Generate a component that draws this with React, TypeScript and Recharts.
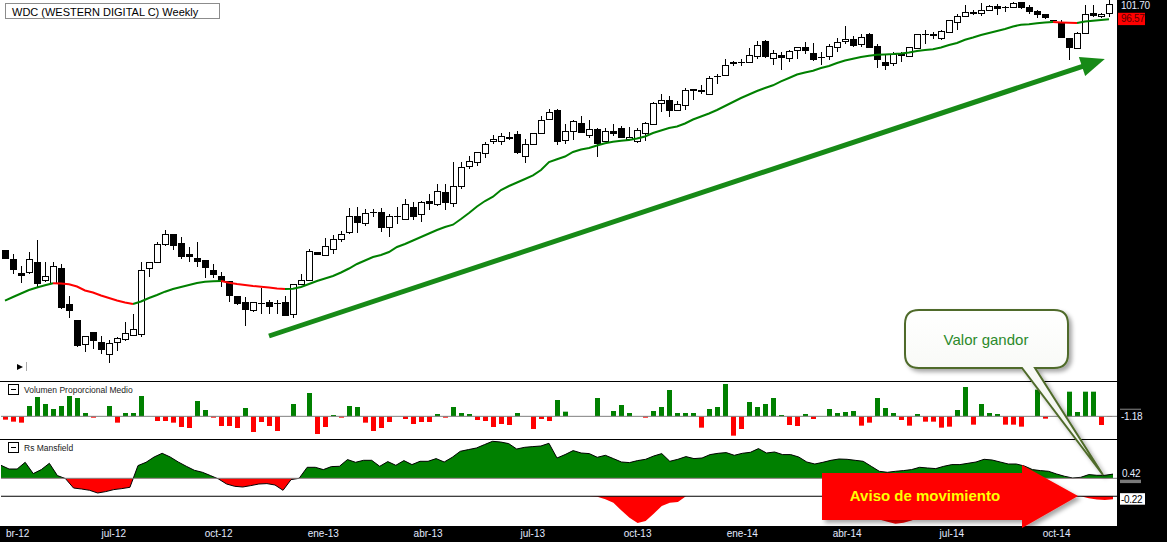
import React from 'react';
import { ComposedChart, Bar, Line, Area, XAxis, YAxis, ReferenceLine, Cell } from 'recharts';

// weekly candles, apr-12 .. dec-14
const openPx = [
  52.6, 50.7, 48.1, 48.1, 50.2, 46.5, 46.1, 49.0, 41.8, 38.7,
  33.8, 36.3, 34.3, 31.9, 34.3, 34.9, 35.7, 35.9, 49.1, 50.3,
  53.9, 55.8, 53.9, 51.7, 51.1, 50.6, 48.6, 47.5, 46.5, 43.5,
  42.3, 40.5, 42.1, 42.3, 42.1, 42.2, 39.8, 45.9, 46.7, 52.2,
  51.5, 52.9, 54.7, 56.1, 59.4, 57.9, 60.1, 60.2, 57.3, 59.5,
  58.7, 61.1, 59.7, 62.3, 61.7, 64.3, 61.9, 65.3, 69.3, 70.2,
  71.9, 74.3, 74.3, 75.1, 75.8, 71.4, 73.8, 75.9, 78.7, 80.6,
  74.5, 76.3, 77.9, 75.5, 76.7, 74.3, 76.3, 77.1, 74.7, 74.3,
  75.9, 77.7, 81.9, 82.6, 80.5, 81.5, 84.7, 84.6, 83.8, 87.3,
  87.5, 90.1, 90.1, 90.1, 91.3, 94.3, 91.1, 91.5, 90.9, 92.5,
  93.1, 91.9, 91.1, 91.3, 93.1, 94.3, 94.7, 93.7, 95.7, 93.3,
  90.2, 89.9, 91.8, 91.3, 93.1, 95.8, 95.7, 95.1, 96.2, 98.1,
  99.4, 100.2, 100.1, 100.5, 101.3, 101.1, 101.1, 102.1, 101.1, 100.3,
  99.7, 98.5, 98.2, 94.9, 93.1, 95.9, 99.9, 99.3, 99.9,
];
const highPx = [
  52.6, 51.8, 49.4, 52.3, 54.6, 50.1, 50.3, 49.7, 43.4, 38.7,
  35.5, 36.3, 35.5, 34.6, 35.3, 38.2, 39.9, 50.2, 50.2, 54.2,
  56.5, 55.8, 55.1, 53.1, 54.3, 50.6, 49.9, 48.3, 46.5, 43.5,
  43.3, 42.3, 45.1, 42.6, 42.6, 43.4, 45.9, 47.9, 52.7, 52.2,
  55.0, 55.5, 56.3, 61.0, 61.1, 60.7, 60.7, 61.0, 59.8, 61.3,
  62.7, 62.1, 62.3, 63.7, 65.8, 65.8, 70.1, 70.1, 71.4, 72.2,
  74.2, 75.5, 75.9, 76.2, 76.3, 74.7, 76.1, 79.3, 80.7, 80.7,
  77.7, 78.6, 79.4, 78.6, 77.0, 76.9, 77.7, 77.4, 77.1, 76.9,
  78.2, 82.1, 83.8, 83.4, 82.3, 85.0, 84.7, 85.5, 87.3, 87.7,
  90.7, 90.3, 90.7, 92.9, 94.3, 94.6, 92.5, 92.1, 92.6, 93.1,
  94.2, 94.1, 92.2, 93.8, 95.1, 97.4, 95.4, 95.7, 96.1, 93.7,
  91.5, 92.2, 92.1, 93.1, 95.8, 96.5, 96.2, 96.6, 98.6, 99.8,
  101.5, 100.6, 101.9, 101.5, 101.7, 101.3, 102.1, 102.2, 101.5, 100.6,
  99.8, 98.6, 98.5, 95.1, 96.2, 101.5, 101.5, 99.9, 102.5,
];
const lowPx = [
  50.8, 47.8, 46.1, 47.7, 45.3, 46.2, 45.9, 40.9, 39.0, 33.3,
  32.1, 32.7, 31.9, 30.1, 32.5, 34.5, 35.4, 35.3, 47.3, 50.2,
  53.4, 52.5, 50.7, 50.1, 49.3, 46.9, 46.9, 45.3, 42.2, 41.6,
  37.4, 40.2, 39.9, 39.9, 39.8, 39.5, 39.1, 45.9, 46.7, 51.5,
  51.3, 51.8, 54.1, 55.8, 55.9, 57.4, 59.3, 56.2, 55.3, 57.8,
  58.5, 58.6, 58.1, 60.6, 61.4, 60.5, 61.1, 64.7, 68.7, 69.4,
  71.0, 73.8, 73.5, 74.6, 71.8, 69.9, 73.7, 75.9, 78.5, 73.5,
  73.8, 74.6, 75.9, 75.1, 71.3, 74.2, 75.4, 75.0, 74.6, 73.9,
  74.3, 77.5, 80.1, 79.1, 80.3, 80.5, 82.6, 83.8, 83.8, 85.8,
  87.4, 89.3, 89.4, 90.1, 90.7, 91.0, 89.5, 88.5, 90.2, 90.7,
  91.8, 90.3, 89.5, 90.6, 92.2, 93.8, 93.1, 93.1, 92.9, 88.9,
  88.6, 89.3, 90.1, 91.3, 93.0, 93.8, 94.7, 94.5, 95.9, 96.5,
  99.3, 99.5, 99.4, 100.3, 99.5, 100.2, 101.0, 100.7, 99.8, 98.9,
  98.7, 98.3, 95.0, 90.5, 92.9, 95.7, 99.1, 98.9, 99.1,
];
const closePx = [
  50.8, 48.5, 47.5, 50.7, 45.9, 47.4, 49.4, 41.0, 40.5, 33.4,
  35.5, 34.5, 32.7, 34.1, 35.1, 36.1, 36.9, 48.7, 50.2, 53.9,
  55.7, 53.4, 51.3, 51.3, 50.2, 49.0, 47.5, 46.5, 43.4, 41.9,
  40.7, 42.3, 42.0, 41.3, 42.0, 39.5, 45.9, 46.6, 52.3, 51.5,
  53.3, 54.7, 55.8, 59.5, 57.9, 59.9, 60.0, 56.9, 59.5, 59.1,
  61.8, 59.3, 62.2, 61.7, 64.3, 61.9, 65.4, 69.1, 70.3, 72.2,
  73.8, 74.7, 75.4, 75.2, 71.9, 73.8, 75.9, 78.5, 80.1, 74.2,
  76.3, 78.3, 75.9, 76.7, 73.7, 76.3, 75.7, 75.1, 75.1, 76.6,
  77.9, 81.9, 82.6, 80.3, 81.8, 84.6, 84.3, 84.2, 87.0, 87.2,
  89.5, 89.8, 90.0, 91.5, 93.5, 91.1, 91.9, 90.9, 92.3, 93.1,
  92.3, 90.6, 91.0, 93.3, 94.1, 94.7, 93.3, 95.1, 93.1, 90.5,
  89.3, 91.8, 91.3, 93.1, 95.8, 95.7, 95.3, 96.3, 98.5, 99.3,
  100.2, 99.8, 100.6, 101.3, 100.7, 101.0, 101.9, 100.9, 100.2, 99.5,
  99.0, 98.4, 95.1, 92.9, 95.9, 99.8, 99.3, 99.8, 101.7,
];
// moving average
const avg = [
  42.46, 43.2, 43.9, 44.6, 45.1, 45.54, 45.94, 45.92, 45.76, 45.3,
  44.5, 44.1, 43.5, 43.0, 42.5, 42.1, 41.8, 42.3, 43.0, 43.6,
  44.26, 44.8, 45.2, 45.6, 46.0, 46.24, 46.36, 46.4, 46.06, 45.8,
  45.6, 45.4, 45.24, 45.08, 44.92, 44.8, 44.84, 45.2, 45.8, 46.4,
  46.9, 47.4, 48.1, 48.9, 49.8, 50.5, 51.2, 51.6, 52.2, 53.2,
  53.8, 54.5, 55.2, 55.9, 56.6, 57.2, 57.66, 58.8, 60.0, 61.3,
  62.4, 63.26, 64.6, 65.4, 66.1, 66.8, 67.54, 68.6, 70.2, 70.74,
  71.3, 72.2, 72.7, 73.0, 73.5, 73.94, 74.24, 74.46, 74.6, 74.9,
  75.3, 76.0, 76.5, 77.0, 77.3, 77.9, 78.7, 79.3, 79.9, 80.6,
  81.4, 82.2, 83.0, 83.7, 84.4, 85.0, 85.54, 86.34, 87.0, 87.7,
  88.1, 88.46, 89.0, 89.4, 90.0, 90.5, 90.86, 91.2, 91.44, 91.64,
  91.72, 91.8, 91.92, 92.12, 92.4, 92.6, 92.74, 93.1, 93.6, 94.0,
  94.64, 95.1, 95.6, 96.0, 96.4, 96.8, 97.3, 97.66, 97.76, 97.94,
  98.12, 98.2, 98.12, 98.04, 97.98, 98.28, 98.44, 98.6, 98.74,
];
// Volumen Proporcional Medio
const volumen = [
  -10, -16, -19, 31, 58, 37, 22, 31, 61, 55,
  10, -4, 0, 31, -19, 10, 10, 61, 0, -14,
  -14, -19, -32, -35, 46, 19, -4, -29, -29, -35,
  25, -47, -17, -29, -44, 0, 37, 0, 70, -53,
  -32, 4, -4, 31, 28, -19, -44, -35, -17, 0,
  -8, -23, -17, -17, 7, -4, 28, 10, 7, -11,
  -14, -32, -23, -26, 10, 0, -38, -8, -14, 49,
  14, 0, 0, 0, 55, 0, 16, 34, 10, 0,
  -4, 16, 28, 79, 10, 10, 10, -34, 22, 28,
  97, -58, -38, 43, 28, 37, 55, 4, -26, -29,
  7, -8, 0, 22, 10, 13, 16, -28, -19, 55,
  25, 10, -11, -28, 7, -16, -16, -34, -31, 19,
  88, -25, 37, 10, 7, -25, -25, -31, 0, 80,
  -7, 0, 0, 74, 13, 74, 74, -26, -1.18,
];
// Rs Mansfield
const mansfield = [
  1.3, 0.93, 0.93, 1.6, 0.47, 0.87, 1.5, 0.27, -0.03, -0.97,
  -1.07, -1.2, -1.47, -1.33, -1.13, -1.03, -0.9, 1.27, 1.6, 2.13,
  2.5, 2.13, 1.63, 1.2, 0.8, 0.6, 0.27, -0.07, -0.57, -0.8,
  -0.87, -0.73, -0.57, -0.53, -0.67, -1.2, -0.13, 0.0, 1.1, 1.1,
  0.87, 1.17, 1.2, 1.87, 1.6, 1.8, 1.8, 1.2, 1.67, 1.3,
  1.77, 1.37, 1.7, 1.7, 1.97, 1.63, 2.1, 2.7, 2.87, 3.03,
  3.37, 3.7, 3.63, 3.47, 2.93, 3.1, 3.17, 3.23, 3.5, 2.03,
  2.37, 2.77, 2.53, 2.47, 2.1, 2.3, 1.97, 1.63, 1.57, 1.77,
  1.9, 2.23, 2.47, 1.7, 1.9, 2.17, 1.97, 2.03, 2.37, 2.5,
  2.57, 2.3, 2.5, 2.6, 2.97, 2.53, 2.63, 2.37, 2.37, 2.13,
  1.63, 1.43, 1.6, 1.8, 1.93, 1.9, 1.8, 1.7, 1.2, 0.7,
  0.6, 0.7, 0.77, 0.87, 1.1, 1.03, 0.97, 1.2, 1.37, 1.37,
  1.5, 1.63, 1.9, 1.83, 1.63, 1.43, 1.43, 1.23, 0.87, 0.77,
  0.7, 0.43, 0.2, 0.03, 0.1, 0.37, 0.3, 0.3, 0.42,
];
// lower signal panel
const aviso = [
  0, 0, 0, 0, 0, 0, 0, 0, 0, 0,
  0, 0, 0, 0, 0, 0, 0, 0, 0, 0,
  0, 0, 0, 0, 0, 0, 0, 0, 0, 0,
  0, 0, 0, 0, 0, 0, 0, 0, 0, 0,
  0, 0, 0, 0, 0, 0, 0, 0, 0, 0,
  0, 0, 0, 0, 0, 0, 0, 0, 0, 0,
  0, 0, 0, 0, 0, 0, 0, 0, 0, 0,
  0, 0, 0, 0, -0.03, -0.22, -0.5, -1.08, -1.63, -2.03,
  -1.88, -1.33, -0.73, -0.5, -0.43, 0, 0, 0, 0, 0,
  0, 0, 0, 0, 0, 0, 0, 0, 0, 0,
  0, 0, 0, 0, 0, 0, 0, -0.4, -1.0, -1.75,
  -1.93, -2.08, -2.0, -1.83, -1.6, -0.8, 0, 0, 0, 0,
  0, 0, 0, 0, 0, 0, 0, 0, 0, 0,
  0, 0, 0, 0, 0, -0.15, -0.25, -0.28, -0.22,
];
const tickIdx = [0, 14, 27, 40, 53, 66, 79, 92, 105, 118, 131];
const tickText = ['abr-12', 'jul-12', 'oct-12', 'ene-13', 'abr-13', 'jul-13', 'oct-13', 'ene-14', 'abr-14', 'jul-14', 'oct-14'];
const maTagText = '96.57';
const trend = [{ x: 33, y: 35.4 }, { x: 137, y: 90.55 }];

const W = 1167;
const AXIS_W = 50;
const PAD = { left: 0, right: 4 };
const FONT = '"Liberation Sans", Arial, sans-serif';
const LIGHT = '#e2eaff';

const n = openPx.length;
const segUp = (j: number) => avg[j + 1] >= avg[j];
const rows = openPx.map((o, i) => {
  const up = (i > 0 && segUp(i - 1)) || (i < n - 1 && segUp(i));
  const down = (i > 0 && !segUp(i - 1)) || (i < n - 1 && !segUp(i));
  return {
    i,
    open: o,
    high: highPx[i],
    low: lowPx[i],
    close: closePx[i],
    range: [lowPx[i], highPx[i]],
    maUp: up ? avg[i] : null,
    maDown: down ? avg[i] : null,
    vol: volumen[i],
    rs: mansfield[i],
    av: aviso[i],
  };
});
const rsMax = Math.max(...mansfield);
const rsMin = Math.min(...mansfield);
const rsSplit = rsMax / (rsMax - rsMin);

const Candle = (props: any) => {
  const { x, y, width, height, payload } = props;
  if (x == null || y == null) return null;
  const top = Math.min(y, y + height);
  const h = Math.abs(height);
  const span = payload.high - payload.low || 1;
  const toY = (v: number) => top + ((payload.high - v) / span) * h;
  const yo = toY(payload.open);
  const yc = toY(payload.close);
  const bull = payload.close >= payload.open;
  const left = Math.round(x);
  const cx = left + Math.floor(width / 2) + 0.5;
  const bTop = Math.round(Math.min(yo, yc));
  const bBot = Math.round(Math.max(yo, yc));
  return (
    <g>
      <line x1={cx} x2={cx} y1={Math.round(top)} y2={Math.round(top + h)} stroke="#000" strokeWidth={1} />
      {bull ? (
        <rect x={left + 0.5} y={bTop + 0.5} width={width - 1} height={Math.max(bBot - bTop, 1)} fill="#fff" stroke="#000" strokeWidth={1} />
      ) : (
        <rect x={left} y={bTop} width={width} height={Math.max(bBot - bTop, 1)} fill="#000" />
      )}
    </g>
  );
};

const TrendArrow = (props: any) => {
  const { x1, y1, x2, y2 } = props;
  const a = Math.atan2(y2 - y1, x2 - x1);
  const c = Math.cos(a);
  const s = Math.sin(a);
  const tx = x2 + 4 * c;
  const ty = y2 + 4 * s;
  const hl = 24;
  const hw = 10;
  const bx = tx - hl * c;
  const by = ty - hl * s;
  return (
    <g>
      <line x1={x1} y1={y1} x2={bx + 3 * c} y2={by + 3 * s} stroke="#178a17" strokeWidth={5} />
      <polygon points={`${tx},${ty} ${bx - hw * s},${by + hw * c} ${bx + hw * s},${by - hw * c}`} fill="#178a17" />
    </g>
  );
};

const PriceTag = (props: any) => {
  const { y, payload } = props;
  if (payload.value === closePx[n - 1]) {
    return (
      <text x={1121} y={y + 4.8} fill={LIGHT} fontSize={10} letterSpacing={-0.3} fontFamily={FONT}>
        {payload.value.toFixed(2)}
      </text>
    );
  }
  return (
    <g>
      <rect x={1118} y={y - 6.5} width={27} height={12.3} fill="#ff0000" />
      <text x={1121} y={y + 3} fill="#5a0000" fontSize={10} letterSpacing={-0.3} fontFamily={FONT}>
        {maTagText}
      </text>
    </g>
  );
};

const VolTag = (props: any) => {
  const { y, payload } = props;
  return (
    <g>
      <line x1={1120} x2={1141} y1={y - 7.5} y2={y - 7.5} stroke="#8a8a8a" />
      <text x={1121} y={y + 3.5} fill={LIGHT} fontSize={10} letterSpacing={-0.3} fontFamily={FONT}>
        {payload.value.toFixed(2)}
      </text>
    </g>
  );
};

const RsTag = (props: any) => {
  const { y, payload } = props;
  return (
    <g>
      <rect x={1120} y={y + 5.6} width={21} height={3.4} fill="#7a7a7a" />
      <text x={1122} y={y + 3} fill={LIGHT} fontSize={10} letterSpacing={-0.3} fontFamily={FONT}>
        {payload.value.toFixed(2)}
      </text>
    </g>
  );
};

const AvisoTag = (props: any) => {
  const { y, payload } = props;
  return (
    <g>
      <rect x={1120} y={y - 6} width={25} height={11.5} fill="#fff" />
      <text x={1121} y={y + 3.8} fill="#000" fontSize={10} letterSpacing={-0.3} fontFamily={FONT}>
        {payload.value.toFixed(2)}
      </text>
    </g>
  );
};

const MonthTick = (props: any) => {
  const { x, payload } = props;
  const label = tickText[tickIdx.indexOf(payload.value)];
  if (payload.value === 0) {
    return (
      <g>
        <clipPath id="firstMonth">
          <rect x={6} y={30} width={40} height={22} />
        </clipPath>
        <text x={0.5} y={47} fill={LIGHT} fontSize={10} fontFamily={FONT} clipPath="url(#firstMonth)">
          {label}
        </text>
      </g>
    );
  }
  return (
    <text x={x} y={47} textAnchor="middle" fill={LIGHT} fontSize={10} fontFamily={FONT}>
      {label}
    </text>
  );
};

const PanelHeader = ({ top, text }: { top: number; text: string }) => (
  <div style={{ position: 'absolute', left: 8, top, height: 11, display: 'flex', alignItems: 'center' }}>
    <div style={{ width: 9, height: 9, border: '1px solid #000', position: 'relative', background: '#fff' }}>
      <div style={{ position: 'absolute', left: 2, top: 4, width: 5, height: 1, background: '#000' }} />
    </div>
    <span style={{ marginLeft: 5, fontSize: 8.5, color: '#1a1a1a', whiteSpace: 'nowrap' }}>{text}</span>
  </div>
);

const Notes = () => (
  <svg width={W} height={542} style={{ position: 'absolute', left: 0, top: 0, pointerEvents: 'none' }}>
    <defs>
      <filter id="softShadow" x="-10%" y="-10%" width="130%" height="140%">
        <feDropShadow dx="3" dy="3" stdDeviation="2" floodColor="#000" floodOpacity="0.35" />
      </filter>
      <linearGradient id="bubbleFill" x1="0" y1="0" x2="0" y2="1">
        <stop offset="0" stopColor="#ffffff" />
        <stop offset="1" stopColor="#edf0e8" />
      </linearGradient>
    </defs>
    <path
      d="M919 310 H1054 Q1068 310 1068 324 V354 Q1068 368 1054 368 H1035 L1103 475 L1022 368 H919 Q905 368 905 354 V324 Q905 310 919 310 Z"
      fill="url(#bubbleFill)"
      stroke="#4f6b2a"
      strokeWidth={2}
      filter="url(#softShadow)"
    />
    <text x={986} y={345} textAnchor="middle" fontSize={15} fill="#2b8a2b" fontFamily={FONT}>
      Valor gandor
    </text>
    <polygon points="822,473 1022,473 1022,465 1078,496 1022,528 1022,520 822,520" fill="#ff0000" filter="url(#softShadow)" />
    <text x={925} y={501} textAnchor="middle" fontSize={15} fontWeight="bold" fill="#ffff00" fontFamily={FONT}>
      Aviso de movimiento
    </text>
    <polygon points="17,364 23,367 17,370" fill="#000" />
    <line x1={26.5} y1={362} x2={26.5} y2={371} stroke="#aaa" />
  </svg>
);

export default function App() {
  const margin = { top: 0, right: 0, bottom: 0, left: 1 };
  return (
    <div style={{ position: 'absolute', left: 0, top: 0, width: W, height: 542, background: '#fff', overflow: 'hidden', fontFamily: FONT }}>
      <div style={{ position: 'absolute', left: 1117, top: 0, width: 50, height: 542, background: '#000' }} />
      <div style={{ position: 'absolute', left: 0, top: 526, width: W, height: 16, background: '#000' }} />
      <div style={{ position: 'absolute', left: 0, top: 381, width: 1117, height: 1, background: '#000' }} />
      <div style={{ position: 'absolute', left: 0, top: 439, width: 1117, height: 1, background: '#000' }} />

      <div style={{ position: 'absolute', left: 0, top: 0 }}>
        <ComposedChart width={W} height={381} data={rows} margin={margin}>
          <XAxis dataKey="i" hide padding={PAD} />
          <YAxis
            orientation="right"
            width={AXIS_W}
            domain={[26.4, 102.6]}
            allowDataOverflow
            ticks={[closePx[n - 1], avg[n - 1]]}
            interval={0}
            tick={PriceTag}
            axisLine={false}
            tickLine={false}
          />
          <ReferenceLine segment={trend} shape={TrendArrow} ifOverflow="visible" />
          <Bar dataKey="range" barSize={7} shape={Candle} isAnimationActive={false} />
          <Line dataKey="maUp" stroke="#008000" strokeWidth={2} dot={false} activeDot={false} connectNulls={false} isAnimationActive={false} />
          <Line dataKey="maDown" stroke="#ff0000" strokeWidth={2} dot={false} activeDot={false} connectNulls={false} isAnimationActive={false} />
        </ComposedChart>
      </div>

      <div style={{ position: 'absolute', left: 0, top: 382 }}>
        <ComposedChart width={W} height={57} data={rows} margin={margin}>
          <XAxis dataKey="i" hide padding={PAD} />
          <YAxis
            orientation="right"
            width={AXIS_W}
            domain={[-68, 103]}
            allowDataOverflow
            ticks={[volumen[n - 1]]}
            interval={0}
            tick={VolTag}
            axisLine={false}
            tickLine={false}
          />
          <Bar dataKey="vol" barSize={5} isAnimationActive={false}>
            {rows.map((r) => (
              <Cell key={r.i} fill={r.vol >= 0 ? '#008000' : '#ff0000'} />
            ))}
          </Bar>
          <ReferenceLine y={0} stroke="#808080" ifOverflow="visible" />
        </ComposedChart>
      </div>

      <div style={{ position: 'absolute', left: 0, top: 440 }}>
        <ComposedChart width={W} height={56} data={rows} margin={margin}>
          <defs>
            <linearGradient id="rsSplit" x1="0" y1="0" x2="0" y2="1">
              <stop offset={rsSplit} stopColor="#008000" />
              <stop offset={rsSplit} stopColor="#ff0000" />
            </linearGradient>
          </defs>
          <XAxis dataKey="i" hide padding={PAD} />
          <YAxis
            orientation="right"
            width={AXIS_W}
            domain={[-1.77, 3.83]}
            allowDataOverflow
            ticks={[mansfield[n - 1]]}
            interval={0}
            tick={RsTag}
            axisLine={false}
            tickLine={false}
          />
          <Area dataKey="rs" type="linear" baseValue={0} fill="url(#rsSplit)" fillOpacity={1} stroke="#000" strokeWidth={1} dot={false} activeDot={false} isAnimationActive={false} />
          <ReferenceLine y={0} stroke="#808080" ifOverflow="visible" />
        </ComposedChart>
      </div>

      <div style={{ position: 'absolute', left: 0, top: 490 }}>
        <ComposedChart width={W} height={52} data={rows} margin={{ top: 6, right: 0, bottom: 0, left: 1 }}>
          <XAxis
            dataKey="i"
            padding={PAD}
            height={16}
            ticks={tickIdx}
            interval={0}
            tick={MonthTick}
            axisLine={false}
            tickLine={false}
          />
          <YAxis
            orientation="right"
            width={AXIS_W}
            domain={[-2.25, 0.02]}
            allowDataOverflow
            ticks={[aviso[n - 1]]}
            interval={0}
            tick={AvisoTag}
            axisLine={false}
            tickLine={false}
          />
          <Area dataKey="av" type="linear" baseValue={0} fill="#ff0000" fillOpacity={1} stroke="none" dot={false} activeDot={false} isAnimationActive={false} />
          <ReferenceLine y={0} stroke="#000" ifOverflow="visible" />
        </ComposedChart>
      </div>

      <div
        style={{
          position: 'absolute',
          left: 5,
          top: 3,
          width: 215,
          height: 16,
          border: '1px solid #8c8c8c',
          background: '#fff',
          fontSize: 11,
          lineHeight: '16px',
          paddingLeft: 6,
          boxSizing: 'border-box',
          color: '#000',
          whiteSpace: 'nowrap',
        }}
      >
        WDC (WESTERN DIGITAL C) Weekly
      </div>
      <PanelHeader top={384} text="Volumen Proporcional Medio" />
      <PanelHeader top={442} text="Rs Mansfield" />
      <Notes />
    </div>
  );
}
